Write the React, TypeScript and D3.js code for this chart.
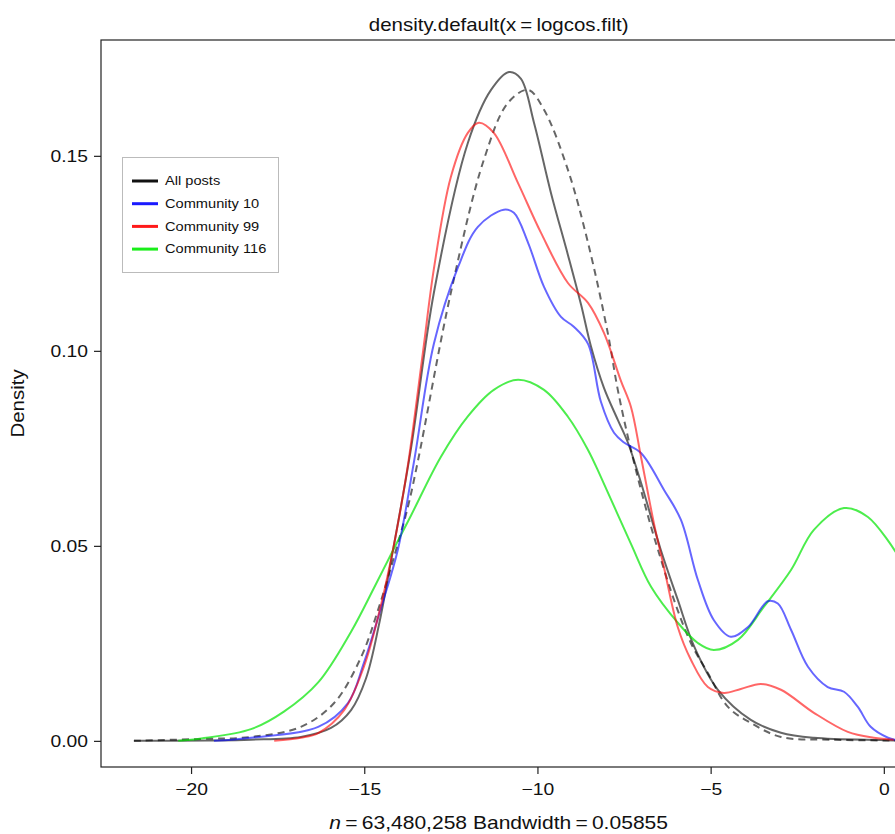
import { useEffect, useRef } from 'react'
import * as d3 from 'd3'

// density curves, as [logcos, density]
const allPosts: [number, number][] = [
  [-21.65, 0], [-19.5, 0.0001], [-18.27, 0.0003], [-16.83, 0.001], [-15.96, 0.0033],
  [-15.38, 0.0079], [-14.95, 0.016], [-14.57, 0.03], [-14.23, 0.046], [-13.65, 0.075],
  [-12.99, 0.1149], [-12.01, 0.1533], [-11.34, 0.1669], [-10.82, 0.1715], [-10.48, 0.1698],
  [-10.1, 0.1585], [-9.61, 0.1405], [-9.12, 0.1246], [-8.74, 0.1118], [-8.46, 0.1013],
  [-8.08, 0.0905], [-7.68, 0.0823], [-7.39, 0.0765], [-7.01, 0.0662], [-6.44, 0.049],
  [-5.95, 0.0362], [-5.48, 0.0243], [-4.79, 0.0131], [-3.84, 0.0054], [-2.97, 0.0021],
  [-2.02, 0.0008], [-0.09, 0.0002], [0.36, 0.0001],
]

const allPostsRef: [number, number][] = [
  [-21.65, 0], [-19.71, 0.0005], [-18.27, 0.001], [-16.83, 0.0036], [-15.87, 0.0097],
  [-15.09, 0.0215], [-14.6, 0.0336], [-14.14, 0.0472], [-13.74, 0.06], [-13.45, 0.0718],
  [-12.5, 0.1149], [-11.54, 0.1492], [-10.85, 0.1636], [-10.27, 0.1669], [-9.81, 0.1618],
  [-9.12, 0.1464], [-8.54, 0.1277], [-7.97, 0.1046], [-7.68, 0.09], [-7.3, 0.0746],
  [-6.81, 0.0577], [-6.52, 0.049], [-6.06, 0.0362], [-5.57, 0.0251], [-5.08, 0.0174],
  [-4.5, 0.0087], [-3.84, 0.0046], [-2.97, 0.001], [-1.53, 0.0003], [0.36, 0.0001],
]

const community10: [number, number][] = [
  [-19.34, 0], [-18.27, 0.0008], [-16.33, 0.0036], [-15.47, 0.0097], [-15.01, 0.02],
  [-14.52, 0.034], [-14.03, 0.049], [-13.56, 0.0718], [-12.99, 0.1018], [-12.29, 0.1215],
  [-11.72, 0.1318], [-10.97, 0.1362], [-10.68, 0.1354], [-10.27, 0.1277], [-9.81, 0.1164],
  [-9.32, 0.1087], [-8.95, 0.1062], [-8.54, 0.1018], [-8.17, 0.087], [-7.79, 0.079],
  [-7.5, 0.0765], [-7.01, 0.0738], [-6.35, 0.0644], [-5.86, 0.0567], [-5.37, 0.0413],
  [-4.91, 0.031], [-4.42, 0.0267], [-3.92, 0.0292], [-3.35, 0.0358], [-3.06, 0.0352],
  [-2.68, 0.0285], [-2.19, 0.019], [-1.62, 0.0138], [-1.15, 0.0126], [-0.75, 0.0087],
  [-0.38, 0.0036], [0.12, 0.0008], [0.36, 0.0002],
]

const community99: [number, number][] = [
  [-17.6, 0], [-16.83, 0.0008], [-16.33, 0.002], [-15.58, 0.0079], [-15.01, 0.019],
  [-14.6, 0.0318], [-14.23, 0.0464], [-13.94, 0.06], [-13.71, 0.0725], [-13.3, 0.1],
  [-12.99, 0.121], [-12.5, 0.1446], [-12.01, 0.1559], [-11.69, 0.1585], [-11.26, 0.1559],
  [-10.56, 0.143], [-9.9, 0.1303], [-9.12, 0.1174], [-8.54, 0.1123], [-8.08, 0.1046],
  [-7.59, 0.0923], [-7.3, 0.0856], [-7.01, 0.0728], [-6.64, 0.0559], [-6.35, 0.0446],
  [-5.95, 0.0292], [-5.57, 0.0208], [-5.08, 0.0138], [-4.62, 0.0123], [-4.13, 0.0133],
  [-3.55, 0.0146], [-2.97, 0.0131], [-2.02, 0.0072], [-1.04, 0.0023], [-0.29, 0.0008],
  [0.29, 0.0003],
]

const community116: [number, number][] = [
  [-20.37, 0], [-19.71, 0.0006], [-18.27, 0.003], [-17.32, 0.0075], [-16.33, 0.015],
  [-15.38, 0.028], [-14.72, 0.0392], [-14.23, 0.0478], [-13.65, 0.0578], [-12.79, 0.0728],
  [-12.01, 0.0832], [-11.26, 0.09], [-10.56, 0.0926], [-9.81, 0.09], [-9.12, 0.0831],
  [-8.54, 0.0746], [-8.17, 0.0677], [-7.3, 0.0505], [-6.72, 0.0395], [-5.95, 0.0303],
  [-5.37, 0.0251], [-4.91, 0.0233], [-4.21, 0.0259], [-3.46, 0.0344], [-2.68, 0.0438],
  [-2.02, 0.0541], [-1.15, 0.0597], [-0.46, 0.0574], [0.36, 0.0482],
]

const xTicks = [-20, -15, -10, -5, 0]
const yTicks = [0, 0.05, 0.1, 0.15]
const legendLabels = ['All posts', 'Community 10', 'Community 99', 'Community 116']

const titleText = 'density.default(x\u2009=\u2009logcos.filt)'
const xLabelText = '\u2009=\u200963,480,258 Bandwidth\u2009=\u20090.05855'
const yLabelText = 'Density'

const W = 895
const H = 834
const FONT = '"Liberation Sans", Arial, Helvetica, sans-serif'
const SX = 1.17 // the figure is a bit wider than tall, stretch text to match

const DensityChart = () => {
  const svgRef = useRef<SVGSVGElement>(null)

  useEffect(() => {
    if (!svgRef.current) return
    const svg = d3.select(svgRef.current)
    svg.selectAll('*').remove()

    const left = 101
    const top = 40
    const bottom = 767

    const x = d3.scaleLinear().domain([-22.6, 0.36]).range([left, 896.3])
    const y = d3.scaleLinear().domain([-0.0067, 0.1797]).range([bottom, top])
    const right = x.range()[1]

    svg.append('rect')
      .attr('width', W)
      .attr('height', H)
      .attr('fill', 'white')

    // 畫線
    const line = d3.line<[number, number]>()
      .x(d => x(d[0]))
      .y(d => y(Math.max(0, d[1])))
      .curve(d3.curveCatmullRom.alpha(0.5))

    const series = [
      { data: allPosts, color: '#000000', opacity: 0.6, dash: null },
      { data: allPostsRef, color: '#000000', opacity: 0.6, dash: '7,5' },
      { data: community116, color: '#00e600', opacity: 0.7, dash: null },
      { data: community10, color: '#0000ff', opacity: 0.6, dash: null },
      { data: community99, color: '#ff0000', opacity: 0.6, dash: null },
    ]

    svg.append('clipPath')
      .attr('id', 'plot-clip')
      .append('rect')
      .attr('x', left)
      .attr('y', top)
      .attr('width', right - left)
      .attr('height', bottom - top)

    const lines = svg.append('g').attr('clip-path', 'url(#plot-clip)')
    series.forEach(s => {
      lines.append('path')
        .datum(s.data)
        .attr('d', line)
        .attr('fill', 'none')
        .attr('stroke', s.color)
        .attr('stroke-opacity', s.opacity)
        .attr('stroke-width', 2)
        .attr('stroke-dasharray', s.dash)
    })

    // 外框
    svg.append('rect')
      .attr('x', left)
      .attr('y', top)
      .attr('width', right - left)
      .attr('height', bottom - top)
      .attr('fill', 'none')
      .attr('stroke', '#222')
      .attr('stroke-width', 1.2)

    // X 軸
    const xAxis = svg.append('g')
      .attr('transform', `translate(0,${bottom})`)
      .call(d3.axisBottom(x).tickValues(xTicks).tickSize(7).tickPadding(9).tickSizeOuter(0))
    xAxis.select('.domain').remove()
    xAxis.selectAll('line').attr('stroke', '#222').attr('stroke-width', 1.2)
    xAxis.selectAll('text')
      .attr('transform', `scale(${SX},1)`)
      .style('font-family', FONT)
      .style('font-size', '16.5px')
      .style('fill', '#111')

    // Y 軸
    const yAxis = svg.append('g')
      .attr('transform', `translate(${left},0)`)
      .call(d3.axisLeft(y).tickValues(yTicks).tickFormat(d3.format('.2f')).tickSize(7).tickSizeOuter(0))
    yAxis.select('.domain').remove()
    yAxis.selectAll('line').attr('stroke', '#222').attr('stroke-width', 1.2)
    yAxis.selectAll('text')
      .attr('x', -13 / SX)
      .attr('transform', `scale(${SX},1)`)
      .style('font-family', FONT)
      .style('font-size', '16.5px')
      .style('fill', '#111')

    // 標題
    svg.append('text')
      .attr('transform', `translate(${(left + right) / 2},31) scale(${SX},1)`)
      .attr('text-anchor', 'middle')
      .style('font-family', FONT)
      .style('font-size', '17.5px')
      .style('fill', '#111')
      .text(titleText)

    const xl = svg.append('text')
      .attr('transform', `translate(${(left + right) / 2},829) scale(${SX},1)`)
      .attr('text-anchor', 'middle')
      .style('font-family', FONT)
      .style('font-size', '18px')
      .style('fill', '#111')
    xl.append('tspan').style('font-style', 'italic').text('n')
    xl.append('tspan').text(xLabelText)

    svg.append('text')
      .attr('transform', `translate(24,${(top + bottom) / 2}) rotate(-90) scale(${SX},1)`)
      .attr('text-anchor', 'middle')
      .style('font-family', FONT)
      .style('font-size', '17.5px')
      .style('fill', '#111')
      .text(yLabelText)

    // 圖例
    const legendColors = ['#111111', '#1a1aff', '#ff1a1a', '#1aee1a']
    const legend = svg.append('g')
    legend.append('rect')
      .attr('x', 122.5)
      .attr('y', 157.5)
      .attr('width', 156)
      .attr('height', 115)
      .attr('fill', 'white')
      .attr('stroke', '#bbb')
      .attr('stroke-width', 1)
    legendLabels.forEach((label, i) => {
      const ly = 181 + i * 22.7
      legend.append('line')
        .attr('x1', 132)
        .attr('x2', 158)
        .attr('y1', ly)
        .attr('y2', ly)
        .attr('stroke', legendColors[i])
        .attr('stroke-width', 3)
      legend.append('text')
        .attr('transform', `translate(165,${ly}) scale(${SX},1)`)
        .attr('dy', '0.35em')
        .style('font-family', FONT)
        .style('font-size', '12.5px')
        .style('fill', '#111')
        .text(label)
    })
  }, [])

  return (
    <svg ref={svgRef} width={W} height={H} style={{ display: 'block' }} />
  )
}

export default function App() {
  return (
    <div>
      <style>{'body { margin: 0; }'}</style>
      <DensityChart />
    </div>
  )
}
